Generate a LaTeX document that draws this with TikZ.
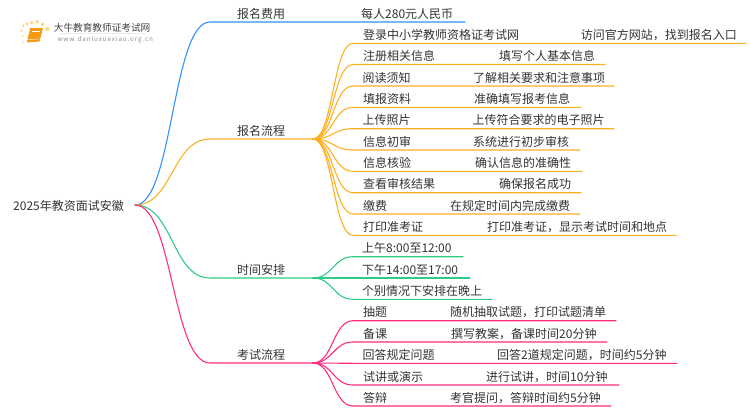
\documentclass[tikz,border=0pt]{standalone}
\usepackage{fontspec}
\setmainfont{Noto Sans CJK SC}
\usetikzlibrary{shapes.geometric}
\definecolor{feeblue}{HTML}{2E93FF}
\definecolor{regorange}{HTML}{FDB022}
\definecolor{timegreen}{HTML}{2ECB86}
\definecolor{exampink}{HTML}{FF2C80}
\definecolor{bookorange}{HTML}{F59A14}
\definecolor{dotyellow}{HTML}{FFD873}
\tikzset{
	lbl/.style={anchor=base west, inner sep=0pt, text=black!80, font=\fontsize{12}{14}\selectfont},
	branch/.style={line width=1.1pt, line cap=round},
}
\def\leafline[#1](#2)(#3)(#4:#5){\coordinate (#3s) at (353, #4); \coordinate (#3e) at (#5, #4);
	\draw[branch, #1] (#2) .. controls +(20, 0) and +(-20, 0) .. (#3s) -- (#3e);}

\begin{document}
\begin{tikzpicture}[x=1pt, y=-1pt]
		%%%%% START %%%%%
		\useasboundingbox (0, 0) rectangle (750, 410);

		% logo
		\foreach \dx/\dy/\dr in {23.3/25.7/1.4, 27.3/24/1.6, 31.7/22.7/1.8, 37.3/21.7/1.9, 42.7/24.3/1.9, 47.3/29/2.1, 21.7/30.7/1.2, 22.7/36/1, 23.3/42.3/.8}
			\fill[dotyellow] (\dx, \dy) circle (\dr);
		\fill[bookorange] (30.3, 28) -- (43, 28) -- (39.5, 41.5) -- (26.8, 42.5) -- cycle;
		\draw[white, line width=0.6pt] (31.5, 31.5) -- (39.5, 31.5);
		\draw[white!70!bookorange, line width=0.6pt] (27.5, 39.7) -- (39.5, 39);
		\fill[black!8] (60, 33) rectangle (146, 33.6);
		\node[anchor=base west, inner sep=0pt, text=black!75, font=\fontsize{9.65}{11}\selectfont] (logoname) at (53.7, 31) {大牛教育教师证考试网};
		\node[anchor=base west, inner sep=0pt, text=black!45, font=\fontsize{6.3}{8}\selectfont\addfontfeatures{LetterSpace=14}] (logourl) at (57.3, 41.3) {www.daniuxuexiao.org.cn};

		% root and first level
		\node[lbl] (root) at (13, 210.5) {2025年教资面试安徽};
		\coordinate (rootout) at (135, 205);
		\coordinate (feestart) at (210, 22);
		\coordinate (feeend) at (465, 22);
		\coordinate (regstart) at (210, 139);
		\coordinate (reghub) at (313, 139);
		\coordinate (timestart) at (210, 278);
		\coordinate (timehub) at (313, 278);
		\coordinate (examstart) at (210, 363);
		\coordinate (examhub) at (313, 363);

		\draw[branch, feeblue] (rootout) .. controls +(38, 0) and +(-38, 0) .. (feestart) -- (feeend);
		\draw[branch, regorange] (rootout) .. controls +(38, 0) and +(-38, 0) .. (regstart) -- (reghub);
		\draw[branch, timegreen] (rootout) .. controls +(38, 0) and +(-38, 0) .. (timestart) -- (timehub);
		\draw[branch, exampink] (rootout) .. controls +(38, 0) and +(-38, 0) .. (examstart) -- (examhub);

		\node[lbl] (fee) at (237, 18) {报名费用};
		\node[lbl] (reg) at (237, 135) {报名流程};
		\node[lbl] (time) at (237, 274) {时间安排};
		\node[lbl] (exam) at (237, 359) {考试流程};

		% fee
		\node[lbl] (feea) at (361, 18) {每人280元人民币};

		% registration steps
		\leafline[regorange](reghub)(rega)(43.3:746)
		\leafline[regorange](reghub)(regb)(64.5:605)
		\leafline[regorange](reghub)(regc)(86:614)
		\leafline[regorange](reghub)(regd)(107.3:581)
		\leafline[regorange](reghub)(rege)(128.7:614)
		\leafline[regorange](reghub)(regf)(150:580)
		\leafline[regorange](reghub)(regg)(171.3:582)
		\leafline[regorange](reghub)(regh)(192.7:581)
		\leafline[regorange](reghub)(regi)(214:580)
		\leafline[regorange](reghub)(regj)(235.3:676)

		\node[lbl] (regat) at (363, 39.3) {登录中小学教师资格证考试网};
		\node[lbl] (regan) at (580.7, 39.3) {访问官方网站，找到报名入口};
		\node[lbl] (regbt) at (363, 60.5) {注册相关信息};
		\node[lbl] (regbn) at (499, 60.5) {填写个人基本信息};
		\node[lbl] (regct) at (362.5, 82) {阅读须知};
		\node[lbl] (regcn) at (473, 82) {了解相关要求和注意事项};
		\node[lbl] (regdt) at (363, 103.3) {填报资料};
		\node[lbl] (regdn) at (474, 103.3) {准确填写报考信息};
		\node[lbl] (reget) at (362.5, 124.7) {上传照片};
		\node[lbl] (regen) at (472.5, 124.7) {上传符合要求的电子照片};
		\node[lbl] (regft) at (363, 146) {信息初审};
		\node[lbl] (regfn) at (473, 146) {系统进行初步审核};
		\node[lbl] (reggt) at (363, 167.3) {信息核验};
		\node[lbl] (reggn) at (475, 167.3) {确认信息的准确性};
		\node[lbl] (reght) at (363, 188.7) {查看审核结果};
		\node[lbl] (reghn) at (499, 188.7) {确保报名成功};
		\node[lbl] (regit) at (363, 210) {缴费};
		\node[lbl] (regin) at (450, 210) {在规定时间内完成缴费};
		\node[lbl] (regjt) at (363, 231.3) {打印准考证};
		\node[lbl] (regjn) at (487, 231.3) {打印准考证，显示考试时间和地点};

		% time
		\leafline[timegreen](timehub)(timea)(256.7:463)
		\leafline[timegreen](timehub)(timeb)(278:470)
		\leafline[timegreen](timehub)(timec)(299.3:492)

		\node[lbl] (timeat) at (362, 252.7) {上午8:00至12:00};
		\node[lbl] (timebt) at (362, 274) {下午14:00至17:00};
		\node[lbl] (timect) at (362, 295.3) {个别情况下安排在晚上};

		% exam steps
		\leafline[exampink](examhub)(exama)(320.7:616)
		\leafline[exampink](examhub)(examb)(342:607)
		\leafline[exampink](examhub)(examc)(363.3:677)
		\leafline[exampink](examhub)(examd)(385:619)
		\leafline[exampink](examhub)(exame)(406:611)

		\node[lbl] (examat) at (363, 316.7) {抽题};
		\node[lbl] (examan) at (450, 316.7) {随机抽取试题，打印试题清单};
		\node[lbl] (exambt) at (363, 338) {备课};
		\node[lbl] (exambn) at (451, 338) {撰写教案，备课时间20分钟};
		\node[lbl] (examct) at (362.5, 359.3) {回答规定问题};
		\node[lbl] (examcn) at (497, 359.3) {回答2道规定问题，时间约5分钟};
		\node[lbl] (examdt) at (363, 381) {试讲或演示};
		\node[lbl] (examdn) at (486, 381) {进行试讲，时间10分钟};
		\node[lbl] (examet) at (363, 402) {答辩};
		\node[lbl] (examen) at (450, 402) {考官提问，答辩时间约5分钟};
		%%%%% END %%%%%
	\end{tikzpicture}
\end{document}
